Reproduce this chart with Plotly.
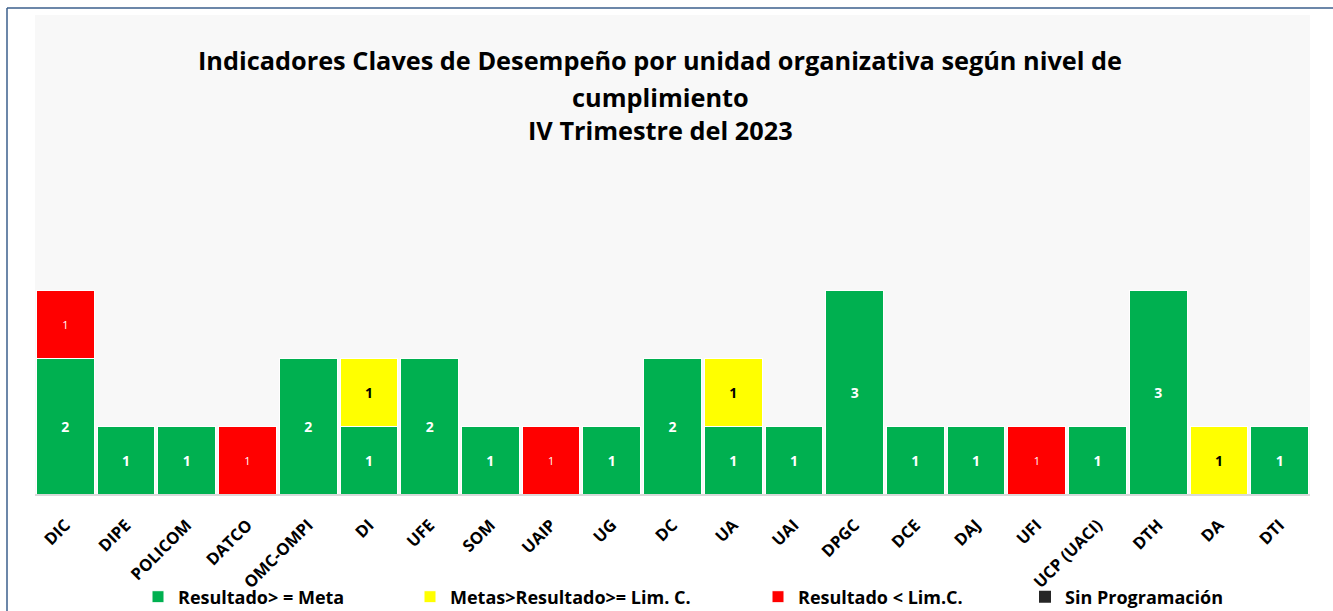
import plotly.graph_objects as go

categories = ["DIC", "DIPE", "POLICOM", "DATCO", "OMC-OMPI", "DI", "UFE", "SOM", "UAIP", "UG",
              "DC", "UA", "UAI", "DPGC", "DCE", "DAJ", "UFI", "UCP (UACI)", "DTH", "DA", "DTI"]
verde = [2, 1, 1, None, 2, 1, 2, 1, None, 1, 2, 1, 1, 3, 1, 1, None, 1, 3, None, 1]
amarillo = [None, None, None, None, None, 1, None, None, None, None, None, 1, None, None, None, None, None, None, None, 1, None]
rojo = [1, None, None, 1, None, None, None, None, 1, None, None, None, None, None, None, None, 1, None, None, None, None]
sin_prog = [None] * len(categories)

series_names = ["Resultado> = Meta", "Metas>Resultado>= Lim. C.", "Resultado < Lim.C.", "Sin Programación"]
title_lines = ["Indicadores Claves de Desempeño por unidad organizativa según nivel de",
               "cumplimiento", "IV Trimestre del 2023"]

FONT = "Open Sans"

fig = go.Figure()
fig.add_trace(go.Bar(x=categories, y=verde, name=series_names[0], legend="legend",
                     marker=dict(color="#00B050", line=dict(color="#ffffff", width=1)),
                     texttemplate="%{y}", textposition="inside", insidetextanchor="middle",
                     textangle=0, constraintext="none",
                     insidetextfont=dict(color="white", size=14, family=FONT, weight="bold")))
fig.add_trace(go.Bar(x=categories, y=amarillo, name=series_names[1], legend="legend2",
                     marker=dict(color="#FFFF00", line=dict(color="#ffffff", width=1)),
                     texttemplate="%{y}", textposition="inside", insidetextanchor="middle",
                     textangle=0, constraintext="none",
                     insidetextfont=dict(color="black", size=14, family=FONT, weight="bold")))
fig.add_trace(go.Bar(x=categories, y=rojo, name=series_names[2], legend="legend3",
                     marker=dict(color="#FF0000", line=dict(color="#ffffff", width=1)),
                     texttemplate="%{y}", textposition="inside", insidetextanchor="middle",
                     textangle=0, constraintext="none",
                     insidetextfont=dict(color="white", size=11, family=FONT)))
fig.add_trace(go.Bar(x=categories, y=sin_prog, name=series_names[3], legend="legend4",
                     marker=dict(color="#262626", line=dict(width=0))))

W, H = 1333, 611
L, R, T, B = 35, 23, 15, 117
pw, ph = W - L - R, H - T - B

def px_x(px):
    return (px - L) / pw

def px_y(py):
    return (H - B - py) / ph

for line, py in zip(title_lines, [60, 97, 130]):
    fig.add_annotation(text="<b>" + line + "</b>", xref="paper", yref="paper",
                       x=px_x(660), y=px_y(py), xanchor="center", yanchor="middle",
                       showarrow=False, font=dict(size=25.3, color="black", family=FONT))

frame = dict(color="#3b5f8c", width=1.5)
fig.add_shape(type="line", xref="paper", yref="paper",
              x0=px_x(7), x1=px_x(1340), y0=px_y(8), y1=px_y(8), line=frame, layer="below")
fig.add_shape(type="line", xref="paper", yref="paper",
              x0=px_x(7), x1=px_x(7), y0=px_y(8), y1=px_y(620), line=frame, layer="below")

legend_font = dict(size=18, family=FONT, color="black", weight="bold")
legend_common = dict(orientation="h", xanchor="left", yanchor="middle",
                     xref="container", yref="container", y=(H - 597) / H,
                     font=legend_font, itemclick=False, itemdoubleclick=False,
                     bgcolor="rgba(0,0,0,0)", itemwidth=30)
marker_lefts = [153, 425, 773, 1040]

fig.update_layout(
    width=W, height=H,
    margin=dict(l=L, r=R, t=T, b=B, pad=0, autoexpand=False),
    barmode="stack", bargap=0.05,
    paper_bgcolor="white", plot_bgcolor="#F8F8F8",
    font=dict(family=FONT, color="black"),
    showlegend=True,
    legend=dict(x=(marker_lefts[0] - 15) / W, **legend_common),
    legend2=dict(x=(marker_lefts[1] - 15) / W, **legend_common),
    legend3=dict(x=(marker_lefts[2] - 15) / W, **legend_common),
    legend4=dict(x=(marker_lefts[3] - 15) / W, **legend_common),
    xaxis=dict(tickangle=-45, tickfont=dict(size=16.5, family=FONT, color="black", weight="bold"),
               showgrid=False, showline=True, linecolor="#D9D9D9", linewidth=2,
               ticks="outside", ticklen=13, tickcolor="rgba(0,0,0,0)", fixedrange=True,
               automargin=False),
    yaxis=dict(range=[0, ph / 68.0], showticklabels=False, showgrid=False, zeroline=False,
               showline=False, fixedrange=True),
)

fig.write_html("out.html", config={"displayModeBar": False},
               post_script="document.body.style.margin='0px';document.body.style.overflow='hidden';")
